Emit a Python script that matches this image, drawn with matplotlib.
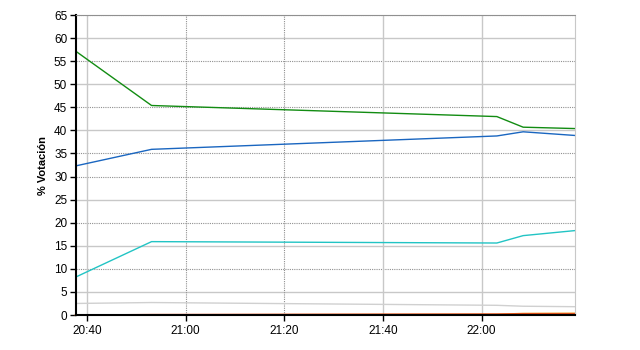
import pandas as pd
import matplotlib
matplotlib.use("Agg")
import matplotlib.pyplot as plt
import matplotlib.dates as mdates

plt.rcParams["font.family"] = ["Liberation Sans", "DejaVu Sans"]

# data
times = pd.to_datetime(["2000-01-01 20:37:40", "2000-01-01 20:53:05", "2000-01-01 22:03:05",
                        "2000-01-01 22:08:25", "2000-01-01 22:19:00"])
green = [57.2, 45.4, 43.0, 40.7, 40.4]
blue = [32.3, 35.9, 38.8, 39.7, 38.9]
cyan = [8.2, 15.9, 15.6, 17.2, 18.3]
grey = [2.5, 2.7, 2.1, 1.9, 1.8]
red = [0.0, 0.1, 0.2, 0.25, 0.25]
orange = [0.0, 0.05, 0.15, 0.35, 0.4]

y_ticks = list(range(0, 70, 5))
y_dotted = [65, 55, 45, 35, 30, 20, 10]
x_ticks = pd.to_datetime(["2000-01-01 20:40", "2000-01-01 21:00", "2000-01-01 21:20",
                          "2000-01-01 21:40", "2000-01-01 22:00"])
x_dotted = [1, 2]

fig = plt.figure(figsize=(6.4, 3.5), dpi=100)
ax = fig.add_axes([0.118, 0.1, 0.781, 0.857])

# grid
for v in y_ticks[1:]:
    if v in y_dotted:
        ax.axhline(v, color="#909090", lw=0.8, ls=(0, (1, 1)), zorder=0)
    else:
        ax.axhline(v, color="#c8c8c8", lw=1.0, zorder=0)
for i, t in enumerate(x_ticks):
    if i in x_dotted:
        ax.axvline(t, color="#909090", lw=0.8, ls=(0, (1, 1)), zorder=0)
    else:
        ax.axvline(t, color="#c8c8c8", lw=1.0, zorder=0)

ax.plot(times, grey, color="#d0d0d0", lw=1.0)
ax.plot(times, cyan, color="#22c4c4", lw=1.0)
ax.plot(times, blue, color="#1a66c0", lw=1.0)
ax.plot(times, green, color="#128c12", lw=1.0)
ax.plot(times, orange, color="#f0a030", lw=1.0, clip_on=False)
ax.plot(times, red, color="#e04010", lw=1.0, clip_on=False)

ax.set_xlim(times[0], times[-1])
ax.set_ylim(0, 65)
ax.set_yticks(y_ticks)
ax.set_xticks(x_ticks)
ax.xaxis.set_major_formatter(mdates.DateFormatter("%H:%M"))

ax.spines["left"].set_linewidth(1.5)
ax.spines["bottom"].set_linewidth(1.5)
ax.spines["right"].set_color("#c8c8c8")
ax.spines["top"].set_color("#909090")
ax.spines["top"].set_linestyle((0, (1, 1)))
ax.spines["top"].set_linewidth(0.8)
ax.tick_params(axis="both", labelsize=8.5, length=4, width=1, color="black", pad=2)
ax.tick_params(axis="x", pad=3)

ax.set_ylabel("% Votación", fontsize=8, fontweight="bold", labelpad=4)

fig.savefig("out.png", dpi=100)
